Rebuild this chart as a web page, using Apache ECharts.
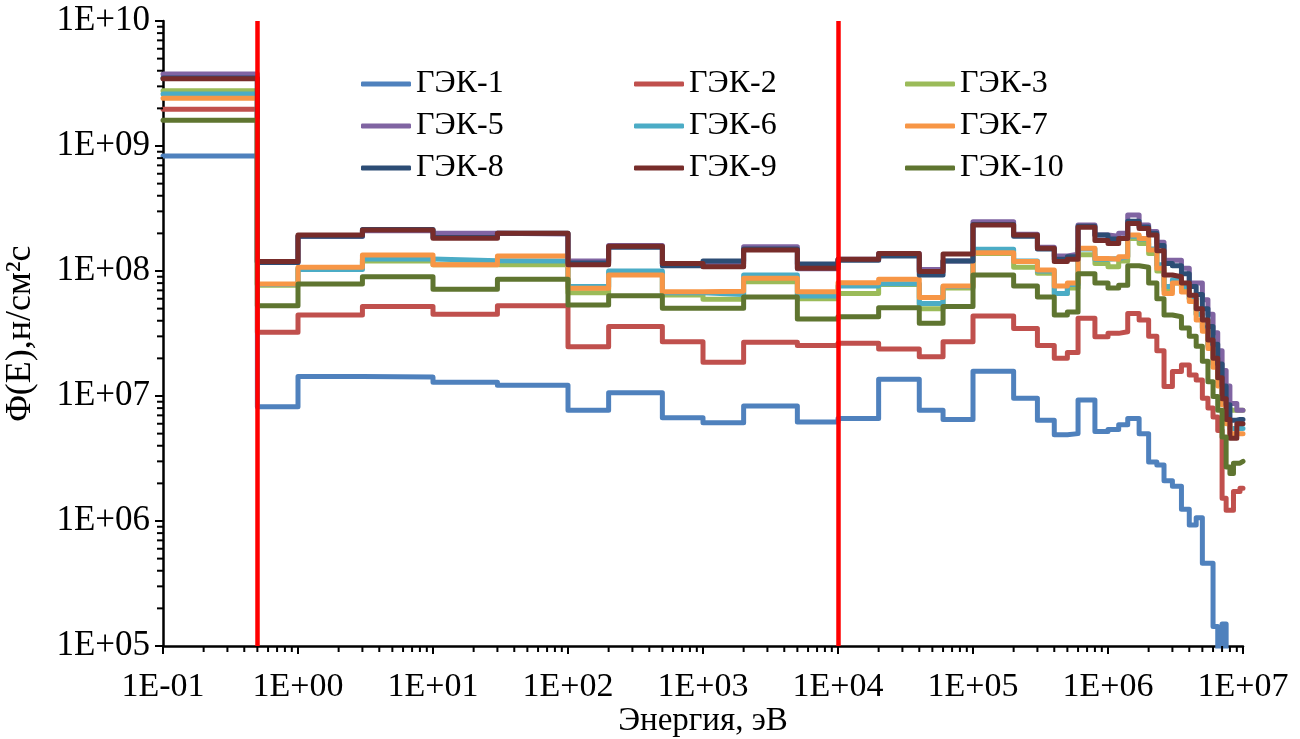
<!DOCTYPE html>
<html>
<head>
<meta charset="utf-8">
<script src="https://cdn.jsdelivr.net/npm/echarts@6/dist/echarts.min.js"></script>
<style>
  html, body { margin: 0; padding: 0; background: #fff; }
  #chart { width: 1300px; height: 739px; }
</style>
</head>
<body>
<div id="chart"></div>
<script>
// Group boundaries of the energy structure, eV (44 groups)
const energyEdges = [0.1, 0.5, 1, 3, 10, 30, 100, 200, 500, 1e3, 2e3, 5e3, 1e4, 2e4, 4e4, 6e4,
  1e5, 2e5, 3e5, 4e5, 5e5, 6e5, 8e5, 1e6, 1.2e6, 1.4e6, 1.7e6, 2e6, 2.3e6, 2.6e6, 3e6, 3.5e6,
  4e6, 4.5e6, 5e6, 5.5e6, 6e6, 6.5e6, 7e6, 7.5e6, 8e6, 8.5e6, 9e6, 9.5e6, 1e7];

// Group flux Φ(E), n/cm²s, one value per group
const gek1 = [8.3e8, 8.2e6, 1.43e7, 1.42e7, 1.29e7, 1.22e7, 7.7e6, 1.06e7, 6.7e6, 6.1e6, 8.3e6, 6.2e6, 6.6e6, 1.36e7, 7.7e6, 6.5e6,
  1.58e7, 9.6e6, 6.4e6, 4.9e6, 5.0e6, 9.3e6, 5.2e6, 5.4e6, 5.9e6, 6.6e6, 5.0e6, 2.97e6, 2.8e6, 2.1e6, 1.9e6, 1.24e6,
  9.3e5, 1.06e6, 4.6e5, 4.6e5, 1.43e5, 7e4, 1.5e5, 5e4, 5e4, 5e4, 5e4, 5e4];
const gek2 = [1.97e9, 3.23e7, 4.45e7, 5.19e7, 4.5e7, 5.28e7, 2.48e7, 3.59e7, 2.72e7, 1.86e7, 2.69e7, 2.53e7, 2.64e7, 2.38e7, 2.06e7, 2.72e7,
  4.37e7, 3.47e7, 2.53e7, 2.0e7, 2.23e7, 4.18e7, 2.98e7, 3.17e7, 3.27e7, 4.58e7, 4.05e7, 3.0e7, 2.3e7, 1.19e7, 1.57e7, 1.77e7,
  1.47e7, 1.34e7, 9.6e6, 8.0e6, 6.8e6, 5.3e6, 1.52e6, 1.22e6, 1.22e6, 1.72e6, 1.72e6, 1.83e6];
const gek3 = [2.77e9, 7.7e7, 1.05e8, 1.2e8, 1.12e8, 1.12e8, 6.7e7, 9.7e7, 6.43e7, 5.94e7, 8.2e7, 6.0e7, 6.6e7, 7.8e7, 5.0e7, 7.3e7,
  1.38e8, 1.07e8, 9.6e7, 6.6e7, 7.3e7, 1.35e8, 1.15e8, 1.08e8, 1.2e8, 1.82e8, 1.66e8, 1.38e8, 1.0e8, 7.0e7, 8.0e7, 7.0e7,
  6.0e7, 4.5e7, 3.5e7, 2.6e7, 1.9e7, 1.4e7, 1.0e7, 8.0e6, 7.7e6, 7.7e6, 7.7e6, 7.7e6];
const gek5 = [3.77e9, 1.17e8, 1.9e8, 2.1e8, 2.0e8, 1.98e8, 1.2e8, 1.6e8, 1.15e8, 1.15e8, 1.56e8, 1.04e8, 1.24e8, 1.38e8, 1.03e8, 1.2e8,
  2.48e8, 1.97e8, 1.55e8, 1.32e8, 1.36e8, 2.33e8, 1.94e8, 1.9e8, 2.0e8, 2.8e8, 2.33e8, 2.07e8, 1.7e8, 1.22e8, 1.22e8, 1.05e8,
  8.0e7, 8.0e7, 5.9e7, 4.5e7, 3.2e7, 2.3e7, 1.6e7, 1.2e7, 8.7e6, 8.7e6, 7.7e6, 7.7e6];
const gek6 = [2.61e9, 7.8e7, 1.03e8, 1.25e8, 1.21e8, 1.2e8, 7.5e7, 1.0e8, 6.7e7, 6.5e7, 9.3e7, 6.3e7, 7.6e7, 7.9e7, 5.5e7, 7.5e7,
  1.49e8, 1.2e8, 1.0e8, 6.6e7, 7.8e7, 1.5e8, 1.24e8, 1.26e8, 1.3e8, 1.9e8, 1.8e8, 1.5e8, 1.12e8, 7.5e7, 8.5e7, 7.5e7,
  6.0e7, 4.5e7, 3.5e7, 2.5e7, 1.8e7, 1.3e7, 9e6, 6.5e6, 5.5e6, 5.5e6, 5.5e6, 5.5e6];
const gek7 = [2.41e9, 7.87e7, 1.07e8, 1.34e8, 1.12e8, 1.32e8, 7.27e7, 9.3e7, 6.83e7, 6.9e7, 8.74e7, 6.83e7, 8.07e7, 8.58e7, 6.15e7, 7.6e7,
  1.40e8, 1.19e8, 1.02e8, 7.6e7, 8.0e7, 1.52e8, 1.26e8, 1.24e8, 1.3e8, 1.94e8, 1.82e8, 1.47e8, 1.05e8, 6.6e7, 8.0e7, 6.8e7,
  5.7e7, 4.05e7, 3.3e7, 2.4e7, 1.7e7, 1.2e7, 8.5e6, 6.0e6, 5.0e6, 5.0e6, 5.0e6, 5.0e6];
const gek8 = [3.5e9, 1.17e8, 1.9e8, 2.15e8, 1.85e8, 2.0e8, 1.16e8, 1.55e8, 1.1e8, 1.2e8, 1.5e8, 1.14e8, 1.22e8, 1.32e8, 9.3e7, 1.2e8,
  2.35e8, 1.9e8, 1.5e8, 1.24e8, 1.3e8, 2.28e8, 1.94e8, 1.8e8, 1.85e8, 2.5e8, 2.25e8, 2.0e8, 1.6e8, 1.15e8, 1.1e8, 9.5e7,
  7.5e7, 6.5e7, 5.0e7, 3.6e7, 2.6e7, 1.8e7, 1.2e7, 8.5e6, 6.4e6, 6.4e6, 6.5e6, 6.5e6];
const gek9 = [3.45e9, 1.19e8, 1.94e8, 2.13e8, 1.83e8, 2.0e8, 1.12e8, 1.58e8, 1.15e8, 1.08e8, 1.47e8, 1.05e8, 1.24e8, 1.38e8, 9.9e7, 1.37e8,
  2.33e8, 1.94e8, 1.52e8, 1.19e8, 1.24e8, 2.24e8, 1.75e8, 1.66e8, 1.82e8, 2.4e8, 2.19e8, 1.94e8, 1.45e8, 9.3e7, 9.0e7, 8.0e7,
  6.4e7, 5.0e7, 4.05e7, 2.8e7, 2.0e7, 1.4e7, 9.5e6, 6.5e6, 4.6e6, 4.6e6, 6.0e6, 6.0e6];
const gek10 = [1.61e9, 5.28e7, 7.87e7, 9.0e7, 7.13e7, 8.58e7, 5.35e7, 6.35e7, 5.03e7, 5.03e7, 6.2e7, 4.13e7, 4.31e7, 5.09e7, 3.82e7, 5.19e7,
  9.3e7, 7.6e7, 6.2e7, 4.45e7, 4.7e7, 9.5e7, 8.0e7, 7.3e7, 7.7e7, 1.1e8, 1.07e8, 8.0e7, 6.0e7, 4.45e7, 4.3e7, 3.5e7,
  3.0e7, 2.5e7, 1.9e7, 1.3e7, 9.9e6, 7.7e6, 4.7e6, 2.7e6, 2.4e6, 2.9e6, 2.9e6, 3.0e6];

const seriesNames = ['ГЭК-1', 'ГЭК-2', 'ГЭК-3', 'ГЭК-5', 'ГЭК-6', 'ГЭК-7', 'ГЭК-8', 'ГЭК-9', 'ГЭК-10'];
const seriesValues = [gek1, gek2, gek3, gek5, gek6, gek7, gek8, gek9, gek10];
const seriesColors = ['#4F81BD', '#C0504D', '#9BBB59', '#8064A2', '#4BACC6', '#F79646', '#2C4D75', '#772C2A', '#5F7530'];

// Boundaries between thermal / epithermal / fast ranges, eV
const rangeBounds = [0.5, 1e4];

// Axis ranges
const xMin = 0.1, xMax = 1e7, yMin = 1e5, yMax = 1e10;

const FONT = "'Liberation Serif', 'Times New Roman', serif";

// Log-axis minor tick positions (2..9 in every decade)
function minorTicks(lo, hi) {
  const out = [];
  for (let d = lo; d < hi; d *= 10) {
    for (let k = 2; k <= 9; k++) out.push(d * k);
  }
  return out;
}
const xMinor = minorTicks(xMin, xMax);
const yMinor = minorTicks(yMin, yMax);

function expLabel(v) {
  const e = Math.round(Math.log10(v));
  return '1E' + (e < 0 ? '-' : '+') + String(Math.abs(e)).padStart(2, '0');
}

// Histogram: each group drawn from its lower edge, closed at the upper edge of the last group
function histogram(values) {
  const pts = values.map((v, i) => [energyEdges[i], v]);
  pts.push([energyEdges[energyEdges.length - 1], values[values.length - 1]]);
  return pts;
}

const lineSeries = seriesNames.map((name, i) => ({
  name: name,
  type: 'line',
  step: 'end',
  symbol: 'none',
  data: histogram(seriesValues[i]),
  color: seriesColors[i],
  lineStyle: { color: seriesColors[i], width: 5, join: 'round', cap: 'round' },
  emphasis: { disabled: true },
  z: 2
}));

const boundSeries = {
  name: 'bounds',
  type: 'line',
  data: [],
  silent: true,
  markLine: {
    silent: true,
    symbol: 'none',
    label: { show: false },
    lineStyle: { color: '#FF0000', width: 4.5, type: 'solid' },
    emphasis: { disabled: true },
    data: rangeBounds.map(e => ({ xAxis: e }))
  },
  z: 6
};

const tickSeries = {
  name: 'minorTicks',
  type: 'custom',
  silent: true,
  clip: false,
  z: 10,
  data: [[1, 1e7]],
  renderItem: function (params, api) {
    const children = [];
    xMinor.forEach(v => {
      const p = api.coord([v, yMin]);
      children.push({ type: 'line', shape: { x1: p[0], y1: p[1], x2: p[0], y2: p[1] + 6 },
        style: { stroke: '#000', lineWidth: 2 } });
    });
    yMinor.forEach(v => {
      const p = api.coord([xMin, v]);
      children.push({ type: 'line', shape: { x1: p[0] - 6, y1: p[1], x2: p[0], y2: p[1] },
        style: { stroke: '#000', lineWidth: 2 } });
    });
    return { type: 'group', children: children };
  }
};

function legendBlock(names, left) {
  return {
    data: names,
    left: left,
    top: 62,
    orient: 'vertical',
    icon: 'roundRect',
    itemWidth: 50,
    itemHeight: 5,
    itemGap: 8,
    selectedMode: false,
    textStyle: { fontFamily: FONT, fontSize: 32, color: '#000', lineHeight: 34 }
  };
}

const chart = echarts.init(document.getElementById('chart'), null, { renderer: 'canvas' });
chart.setOption({
  animation: false,
  backgroundColor: '#fff',
  textStyle: { fontFamily: FONT },
  grid: { left: 163, right: 57, top: 21, bottom: 93, containLabel: false, outerBoundsMode: 'none' },
  legend: [
    legendBlock(['ГЭК-1', 'ГЭК-5', 'ГЭК-8'], 356),
    legendBlock(['ГЭК-2', 'ГЭК-6', 'ГЭК-9'], 629),
    legendBlock(['ГЭК-3', 'ГЭК-7', 'ГЭК-10'], 900)
  ],
  xAxis: {
    type: 'log',
    logBase: 10,
    min: xMin,
    max: xMax,
    interval: 1,
    name: 'Энергия, эВ',
    nameLocation: 'middle',
    nameGap: 58,
    nameMoveOverlap: false,
    nameTextStyle: { fontFamily: FONT, fontSize: 33, color: '#000', lineHeight: 34 },
    axisLine: { lineStyle: { color: '#000', width: 2.5 } },
    axisTick: { length: 8, lineStyle: { color: '#000', width: 2 } },
    axisLabel: { formatter: expLabel, fontFamily: FONT, fontSize: 34, color: '#000', margin: 24 },
    splitLine: { show: false }
  },
  yAxis: {
    type: 'log',
    logBase: 10,
    min: yMin,
    max: yMax,
    interval: 1,
    name: 'Φ(E),н/см²с',
    nameLocation: 'middle',
    nameGap: 124,
    nameMoveOverlap: false,
    nameTextStyle: { fontFamily: FONT, fontSize: 36, color: '#000' },
    axisLine: { lineStyle: { color: '#000', width: 2.5 } },
    axisTick: { length: 8, lineStyle: { color: '#000', width: 2 } },
    axisLabel: { formatter: expLabel, fontFamily: FONT, fontSize: 35, color: '#000', margin: 13 },
    splitLine: { show: false }
  },
  series: lineSeries.concat([boundSeries, tickSeries])
});
</script>
</body>
</html>
